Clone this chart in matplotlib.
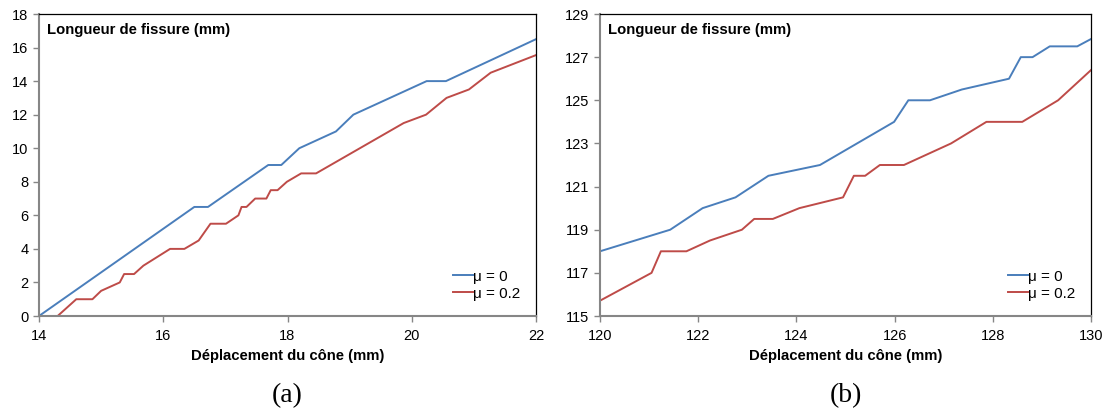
import matplotlib
matplotlib.use("Agg")
import matplotlib.pyplot as plt

plt.rcParams['font.family'] = ['Liberation Sans', 'DejaVu Sans']

# Panel (a)
a_x_mu0 = [14.0, 16.5, 16.72, 17.69, 17.9, 18.19, 18.78, 19.06, 20.24, 20.55, 22.0]
a_y_mu0 = [0.0, 6.5, 6.5, 9.0, 9.0, 10.0, 11.0, 12.0, 14.0, 14.0, 16.5]
a_x_mu02 = [14.0, 14.3, 14.6, 14.86, 15.0, 15.3, 15.37, 15.53, 15.68, 16.11, 16.34,
            16.57, 16.76, 17.01, 17.21, 17.26, 17.34, 17.48, 17.66, 17.73, 17.84,
            17.99, 18.22, 18.46, 19.87, 20.23, 20.56, 20.92, 21.27, 22.0]
a_y_mu02 = [0.0, 0.0, 1.0, 1.0, 1.5, 2.0, 2.5, 2.5, 3.0, 4.0, 4.0,
            4.5, 5.5, 5.5, 6.0, 6.5, 6.5, 7.0, 7.0, 7.5, 7.5,
            8.0, 8.5, 8.5, 11.5, 12.0, 13.0, 13.5, 14.5, 15.55]

# Panel (b)
b_x_mu0 = [120.0, 121.43, 122.09, 122.76, 123.43, 124.48, 125.99, 126.28, 126.72,
           127.37, 128.33, 128.57, 128.81, 129.16, 129.72, 130.0]
b_y_mu0 = [118.0, 119.0, 120.0, 120.5, 121.5, 122.0, 124.0, 125.0, 125.0,
           125.5, 126.0, 127.0, 127.0, 127.5, 127.5, 127.84]
b_x_mu02 = [120.0, 121.05, 121.24, 121.76, 122.24, 122.89, 123.14, 123.52, 124.06,
            124.95, 125.17, 125.4, 125.7, 126.19, 127.15, 127.87, 128.6, 129.33, 130.0]
b_y_mu02 = [115.71, 117.0, 118.0, 118.0, 118.5, 119.0, 119.5, 119.5, 120.0,
            120.5, 121.5, 121.5, 122.0, 122.0, 123.0, 124.0, 124.0, 125.0, 126.4]

labels = ["\u03bc = 0", "\u03bc = 0.2"]
title_text = "Longueur de fissure (mm)"
xlabel_text = "D\u00e9placement du c\u00f4ne (mm)"

BLUE = "#4a7ebb"
RED = "#be4b48"
GRAY = "#868686"

fig = plt.figure(figsize=(11.10, 4.19), dpi=100)
ax_a = fig.add_axes([39/1110, 1-316/419, (536-39)/1110, (316-14)/419])
ax_b = fig.add_axes([600/1110, 1-316/419, (1091-600)/1110, (316-14)/419])

def style(ax, xlim, ylim, xticks, yticks):
    ax.set_xlim(*xlim)
    ax.set_ylim(*ylim)
    ax.set_xticks(xticks)
    ax.set_yticks(yticks)
    for s in ['left', 'bottom']:
        ax.spines[s].set_color(GRAY)
        ax.spines[s].set_linewidth(1.5)
    for s in ['top', 'right']:
        ax.spines[s].set_color('black')
        ax.spines[s].set_linewidth(0.9)
    ax.tick_params(axis='both', direction='out', length=4.5, width=1.0, color=GRAY,
                   labelsize=10.5, labelcolor='black', pad=3)
    ax.tick_params(axis='x', pad=5)
    ax.set_xlabel(xlabel_text, fontsize=10.7, fontweight='bold', labelpad=4)
    ax.text(0.016, 0.97, title_text, transform=ax.transAxes, fontsize=10.7,
            fontweight='bold', va='top', ha='left')

ax_a.plot(a_x_mu0, a_y_mu0, color=BLUE, lw=1.4, label=labels[0])
ax_a.plot(a_x_mu02, a_y_mu02, color=RED, lw=1.4, label=labels[1])
style(ax_a, (14, 22), (0, 18), [14, 16, 18, 20, 22], list(range(0, 19, 2)))

ax_b.plot(b_x_mu0, b_y_mu0, color=BLUE, lw=1.4, label=labels[0])
ax_b.plot(b_x_mu02, b_y_mu02, color=RED, lw=1.4, label=labels[1])
style(ax_b, (120, 130), (115, 129), [120, 122, 124, 126, 128, 130], list(range(115, 130, 2)))

for ax in (ax_a, ax_b):
    ax.legend(loc='lower right', frameon=False, fontsize=11, handlelength=1.3,
              handletextpad=0.05, labelspacing=0.2, borderaxespad=0.8,
              borderpad=0.2)

fig.text((39+536)/2/1110, 1-396/419, "(a)", family='Liberation Serif', fontsize=20,
         ha='center', va='center')
fig.text((600+1091)/2/1110, 1-396/419, "(b)", family='Liberation Serif', fontsize=20,
         ha='center', va='center')

fig.savefig("out.png", dpi=100)
